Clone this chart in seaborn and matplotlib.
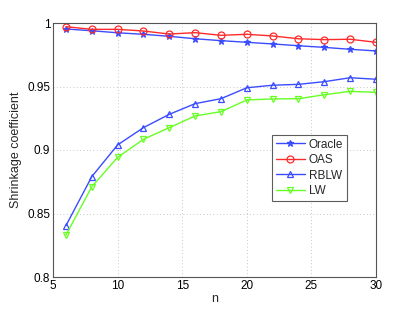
import numpy as np
import pandas as pd
import matplotlib
matplotlib.use("Agg")
import matplotlib.pyplot as plt
import seaborn as sns

n = [6, 8, 10, 12, 14, 16, 18, 20, 22, 24, 26, 28, 30]
oracle = [0.9953, 0.9939, 0.9923, 0.9911, 0.9895, 0.9876, 0.9861, 0.9848, 0.9835, 0.9821, 0.9808, 0.9793, 0.9780]
oas = [0.9971, 0.9950, 0.9950, 0.9937, 0.9913, 0.9924, 0.9903, 0.9911, 0.9898, 0.9876, 0.9869, 0.9872, 0.9848]
rblw = [0.8404, 0.8790, 0.9040, 0.9176, 0.9281, 0.9365, 0.9404, 0.9490, 0.9510, 0.9517, 0.9538, 0.9569, 0.9557]
lw = [0.8330, 0.8710, 0.8942, 0.9084, 0.9176, 0.9268, 0.9302, 0.9394, 0.9402, 0.9404, 0.9435, 0.9462, 0.9454]

series = {"Oracle": oracle, "OAS": oas, "RBLW": rblw, "LW": lw}
colors = {"Oracle": "#3a4cff", "OAS": "#ff2a2a", "RBLW": "#3a4cff", "LW": "#66ff22"}
markers = {"Oracle": "*", "OAS": "o", "RBLW": "^", "LW": "v"}

df = pd.concat([pd.DataFrame({"n": n, "value": v, "method": k}) for k, v in series.items()])

sns.set_style("white")
plt.rcParams["font.family"] = ["Liberation Sans", "DejaVu Sans"]

fig = plt.figure(figsize=(4.15, 3.13), dpi=100)
ax = fig.add_axes([53 / 415, 1 - 277 / 313, (376 - 53) / 415, (277 - 23) / 313])

for k in series:
    sub = df[df["method"] == k]
    msize = 4.5 if k == "Oracle" else 5
    sns.lineplot(data=sub, x="n", y="value", ax=ax, color=colors[k], label=k,
                 marker=markers[k], markersize=msize, markerfacecolor="none" if k != "Oracle" else colors[k],
                 markeredgecolor=colors[k], markeredgewidth=0.9, linewidth=1.0)

ax.set_xlim(5, 30)
ax.set_ylim(0.8, 1.0)
ax.set_xticks([5, 10, 15, 20, 25, 30])
ax.set_yticks([0.8, 0.85, 0.9, 0.95, 1.0])
ax.set_yticklabels(["0.8", "0.85", "0.9", "0.95", "1"])
ax.grid(True, linestyle=(0, (1, 3)), color="#b5b5b5", linewidth=0.6)
ax.tick_params(direction="in", length=3, labelsize=8.5, colors="black", pad=2)
for s in ax.spines.values():
    s.set_color("#555555")
    s.set_linewidth(0.8)
ax.set_xlabel("n", fontsize=9, labelpad=1)
ax.set_ylabel("Shrinkage coefficient", fontsize=9, labelpad=4)

leg = ax.legend(loc="upper left", bbox_to_anchor=((272 - 53) / 323, (277 - 135) / 254),
                fontsize=8.5, frameon=True, fancybox=False, borderpad=0.3,
                handlelength=2.5, labelspacing=0.3, handletextpad=0.3, borderaxespad=0)
leg.get_frame().set_edgecolor("#333333")
leg.get_frame().set_linewidth(0.8)

fig.savefig("out.png", dpi=100)
